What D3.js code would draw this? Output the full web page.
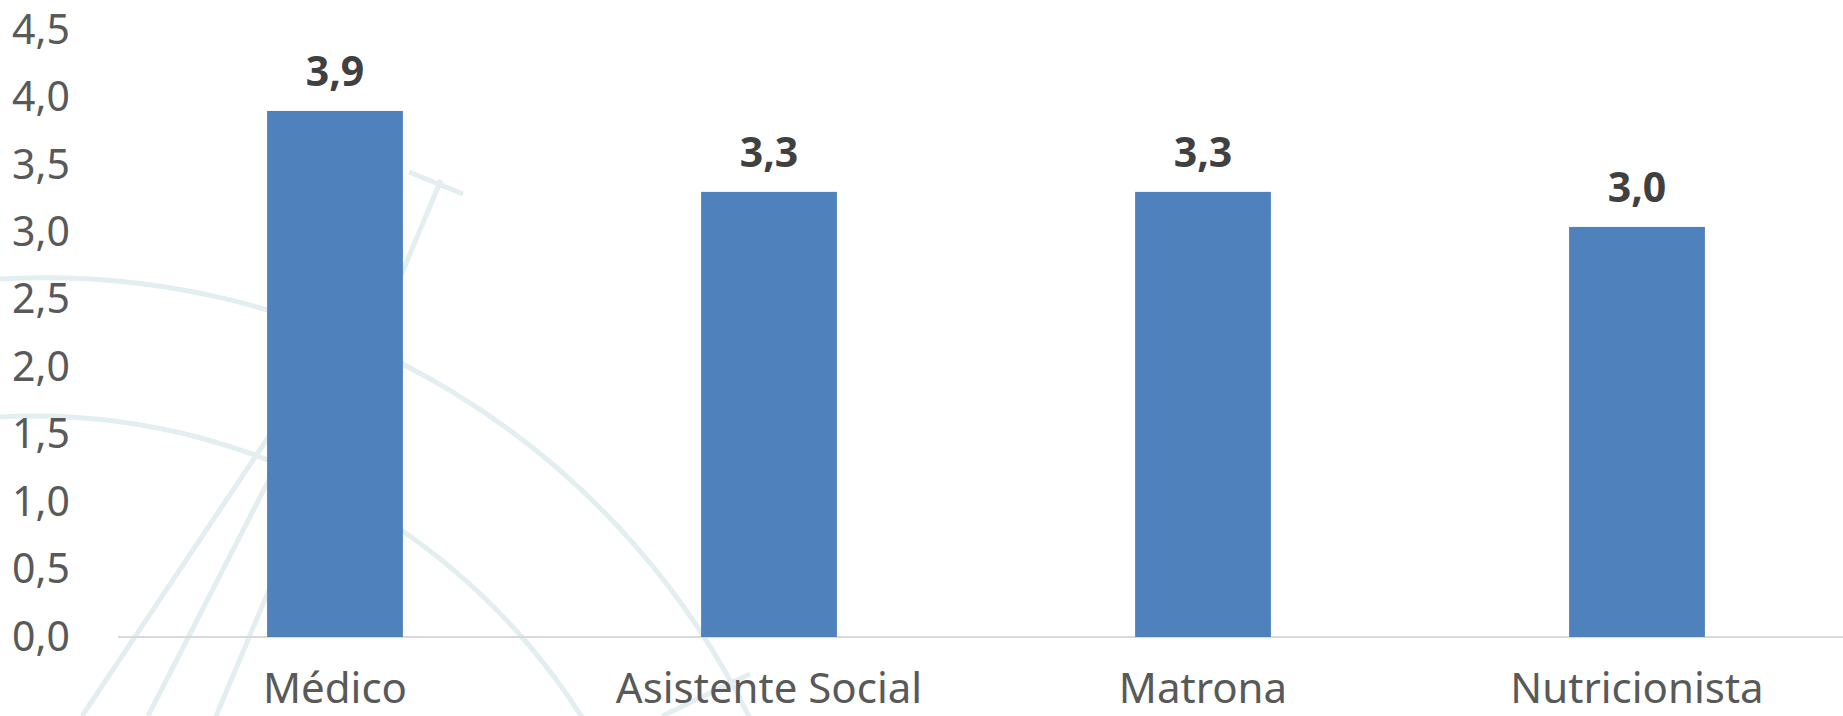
<!DOCTYPE html>
<html>
<head>
<meta charset="utf-8">
<script src="https://cdn.jsdelivr.net/npm/d3@7"></script>
<style>
  body { margin: 0; background: #fff; overflow: hidden; }
  svg { display: block; }
</style>
</head>
<body>
<script>
const categories = ["Médico", "Asistente Social", "Matrona", "Nutricionista"];
const values = [3.9, 3.3, 3.3, 3.04];
const yTicks = [0, 0.5, 1, 1.5, 2, 2.5, 3, 3.5, 4, 4.5];

const width = 1843, height = 716;

const svg = d3.select("body").append("svg")
  .attr("width", width)
  .attr("height", height);

const fmt = d3.formatLocale({decimal: ",", thousands: ".", grouping: [3], currency: ["$", ""]}).format(".1f");

const x = d3.scaleBand()
  .domain(categories)
  .range([118, 1854])
  .paddingInner(0.687)
  .paddingOuter(0.3435);

const y = d3.scaleLinear()
  .domain([0, 4.5])
  .range([637, 30]);

// faint watermark behind the chart
const wm = svg.append("g")
  .attr("fill", "none")
  .attr("stroke", "#e3eef1")
  .attr("stroke-width", 5);

wm.append("path").attr("d", "M0,279 A784,784 0 0 1 760,740");
wm.append("path").attr("d", "M0,417 A650,650 0 0 1 650,860");
wm.append("path").attr("d", "M82,716 L320,360");
wm.append("path").attr("d", "M148,716 L320,380");
wm.append("path").attr("d", "M206,740 L441,180");
wm.append("path").attr("d", "M409,172 L463,194");
wm.append("path").attr("d", "M662,716 L750,674");

// baseline
svg.append("line")
  .attr("x1", 118)
  .attr("x2", width)
  .attr("y1", y(0))
  .attr("y2", y(0))
  .attr("stroke", "#d9d9d9")
  .attr("stroke-width", 2);

// bars
svg.selectAll("rect.bar")
  .data(values)
  .enter().append("rect")
  .attr("class", "bar")
  .attr("x", (d, i) => x(categories[i]))
  .attr("y", d => y(d))
  .attr("width", x.bandwidth())
  .attr("height", d => y(0) - y(d))
  .attr("fill", "#4f81bd");

// value labels
svg.selectAll("text.val")
  .data(values)
  .enter().append("text")
  .attr("class", "val")
  .attr("x", (d, i) => x(categories[i]) + x.bandwidth() / 2)
  .attr("y", d => y(d) - 25)
  .attr("text-anchor", "middle")
  .style("font-family", "'Noto Sans', sans-serif")
  .style("font-size", "41px")
  .style("font-weight", "bold")
  .style("fill", "#404040")
  .text(d => fmt(d));

// y axis
const yAxis = svg.append("g")
  .attr("transform", "translate(70,0)")
  .call(d3.axisLeft(y).tickValues(yTicks).tickSize(0).tickPadding(0).tickFormat(fmt));
yAxis.select(".domain").remove();
yAxis.selectAll("text")
  .style("font-family", "'Noto Sans', sans-serif")
  .style("font-size", "41px")
  .style("fill", "#595959");

// category labels
svg.selectAll("text.cat")
  .data(categories)
  .enter().append("text")
  .attr("class", "cat")
  .attr("x", d => x(d) + x.bandwidth() / 2)
  .attr("y", 703)
  .attr("text-anchor", "middle")
  .style("font-family", "'Noto Sans', sans-serif")
  .style("font-size", "42px")
  .style("fill", "#595959")
  .text(d => d);
</script>
</body>
</html>
